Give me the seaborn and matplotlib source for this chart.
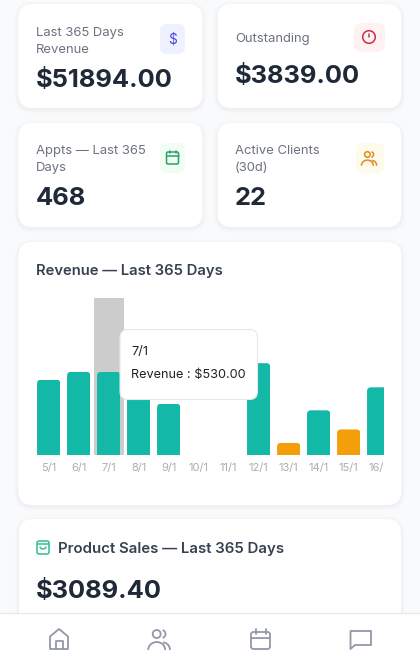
import matplotlib
matplotlib.use("Agg")
import matplotlib.pyplot as plt
import seaborn as sns
import pandas as pd
from matplotlib.patches import FancyBboxPatch, Circle, Arc, Rectangle
from matplotlib.transforms import Bbox, IdentityTransform

months = ["5/1","6/1","7/1","8/1","9/1","10/1","11/1","12/1","13/1","14/1","15/1","16/1"]
revenue = [480,530,530,400,326,0,0,585,77,284,162,431]
tier = ["a","a","a","a","a","a","a","a","b","a","b","a"]
hover = [0,0,1000,0,0,0,0,0,0,0,0,0]

TEAL="#14B8A6"; AMBER="#F59E0B"; BG="#F8FAFC"; INK="#1F2937"; MUTED="#6B7280"; SUB="#374151"; NAV="#9298A8"
W,H=420,653
sns.set_theme(style="white")
plt.rcParams['font.family']=['Inter','DejaVu Sans']
fig=plt.figure(figsize=(W/100,H/100),dpi=100,facecolor=BG)

def layer(z):
    a=fig.add_axes([0,0,1,1],zorder=z); a.set_xlim(0,W); a.set_ylim(H,0); a.axis('off'); a.patch.set_alpha(0); return a
back=layer(0); front=layer(5)

def rbox(a,x0,y0,x1,y1,r,fc,ec='none',lw=0,z=1,alpha=None):
    p=FancyBboxPatch((x0+r,y0+r),x1-x0-2*r,y1-y0-2*r,boxstyle=f"round,pad={r},rounding_size={r}",fc=fc,ec=ec,lw=lw,zorder=z,alpha=alpha)
    a.add_patch(p); return p

def card(x0,y0,x1,y1,r=14):
    for g,al in ((4,0.006),(3,0.008),(2,0.010),(1,0.012)):
        rbox(back,x0-g,y0-g+1.5,x1+g,y1+g+1.5,r+g,"#334155",z=1,alpha=al)
    rbox(back,x0,y0,x1,y1,r,"white",z=2)

for c in [(18.3,4,202.5,108),(217.5,4,401.3,108),(18.3,123,202.5,227),(217.5,123,401.3,227),(18.3,242,401.5,505),(19,519,401,640)]:
    card(*c)

def T(a,x,y,s,size,color,weight='normal',ha='left'):
    return a.text(x,y+1.5+0.1*size,s,fontsize=size,color=color,fontweight=weight,ha=ha,va='center',zorder=6)

VAL=18.35; LAB=9.4
T(back,36,30.5,"Last 365 Days",LAB,MUTED); T(back,36,47.5,"Revenue",LAB,MUTED)
T(back,36,77.5,"$51894.00",VAL,INK,'bold')
T(back,235,36.5,"Outstanding",LAB,MUTED)
T(back,235,73,"$3839.00",VAL,INK,'bold')
T(back,36,148.5,"Appts — Last 365",LAB,MUTED); T(back,36,166,"Days",LAB,MUTED)
T(back,36,195,"468",VAL,INK,'bold')
T(back,235,148.5,"Active Clients",LAB,MUTED); T(back,235,166,"(30d)",LAB,MUTED)
T(back,235,195,"22",VAL,INK,'bold')
T(back,36,268.8,"Revenue — Last 365 Days",10.65,SUB,'semibold')
T(back,57.5,546.8,"Product Sales — Last 365 Days",10.8,SUB,'semibold')
T(back,36,588,"$3089.40",VAL,INK,'bold')

# icon tiles
rbox(back,160,24,185,54,7,"#EEF2FF",z=3)
T(back,172.5,37,"$",9.8,"#4F46E5",ha='center')
rbox(back,354,23,385,52,8,"#FEF2F2",z=3)
rbox(back,160,143,185,173,7,"#F0FDF4",z=3)
rbox(back,356,143,384,173,7,"#FFFBEB",z=3)

def circ(a,x,y,r,col,lw=1.1,z=7):
    a.add_patch(Circle((x,y),r,fc='none',ec=col,lw=lw,zorder=z))
def line(a,xs,ys,col,lw=1.1,z=7):
    a.plot(xs,ys,color=col,lw=lw,zorder=z,solid_capstyle='round',solid_joinstyle='round')
def arc(a,x,y,w,h,t1,t2,col,lw=1.1,z=7):
    a.add_patch(Arc((x,y),w,h,theta1=t1,theta2=t2,ec=col,lw=lw,zorder=z))

RED="#C9304A"
circ(back,369,37,6.3,RED)
line(back,[369,369],[33.8,37.2],RED); line(back,[369,369],[40,40.1],RED)

GR="#2E9E62"
rbox(back,166.5,152,178.5,164,1.5,'none',ec=GR,lw=1.1,z=7)
line(back,[166.5,178.5],[155.5,155.5],GR)
line(back,[169.5,169.5],[150.5,153],GR); line(back,[175.5,175.5],[150.5,153],GR)
for yy in (158.5,161):
    for xx in (169.5,172.5,175.5):
        line(back,[xx,xx+0.3],[yy,yy],GR,lw=0.8)

def users(a,cx,cy,col,s=1.0,lw=1.1):
    circ(a,cx-2.3*s,cy-5*s,4*s,col,lw)
    arc(a,cx-2.3*s,cy+11*s,17*s,16*s,180,360,col,lw)
    arc(a,cx+2.5*s,cy-5*s,8*s,8*s,-75,75,col,lw)
    arc(a,cx+4*s,cy+11*s,14*s,15*s,270,360,col,lw)
users(back,369,158,"#D98A25",s=0.7)

# bag
G2="#34BC94"
rbox(back,37,541,49,554,2,'none',ec=G2,lw=1.1,z=7)
line(back,[37.5,48.5],[544,544],G2)
arc(back,43,546.5,6,5,0,180,G2)

# chart axes
L,R,B,Tp=33.7,384.0,454.8,298.2
ax=fig.add_axes([L/W,1-B/H,(R-L)/W,(B-Tp)/H],zorder=3)
ax.patch.set_alpha(0)
df=pd.DataFrame({"month":months,"revenue":revenue,"tier":tier,"hover":hover})
sns.barplot(data=df,x="month",y="hover",color="#CCCCCC",width=1.0,saturation=1,linewidth=0,ax=ax,zorder=1)
n_hover=len(ax.patches)
sns.barplot(data=df,x="month",y="revenue",hue="tier",palette={"a":TEAL,"b":AMBER},dodge=False,width=0.777,
            saturation=1,linewidth=0,legend=False,ax=ax,zorder=2)
ax.set_xlim(-0.5,(R-L)/30-0.5); ax.set_ylim(0,1000)
ax.set_xlabel(""); ax.set_ylabel(""); ax.set_yticks([])
sns.despine(ax=ax,left=True,bottom=True)
ax.tick_params(axis='x',length=0,pad=6,labelsize=8.0,labelcolor="#A8ACB4")
fig.canvas.draw()
for bar in ax.patches[n_hover:]:
    if bar.get_height()<=0: continue
    e=bar.get_window_extent()
    clip=FancyBboxPatch((e.x0+4,e.y0-8),e.width-8,e.height+4,boxstyle="round,pad=4,rounding_size=4")
    bar.set_clip_path(clip.get_path(),IdentityTransform())
box=Bbox.from_extents(L/W*fig.bbox.width,0,R/W*fig.bbox.width,fig.bbox.height)
for lab in ax.get_xticklabels():
    lab.set_clip_box(box); lab.set_clip_on(True)

# tooltip
rbox(front,120,329.5,257.5,399.5,8,"white",ec="#E5E7EB",lw=0.8,z=5)
T(front,131,350,"7/1",9.2,"#222222")
T(front,131,372.9,"Revenue : $530.00",9.15,"#222222")

# nav
front.add_patch(Rectangle((0,613),W,40,fc="white",ec='none',zorder=5))
line(front,[0,W],[612.6,612.6],"#E5E7EB",lw=0.8,z=6)
line(front,[50,59,68],[636.5,629,636.5],NAV,lw=1.3)
line(front,[50,50,68,68],[636.5,648.5,648.5,636.5],NAV,lw=1.3)
line(front,[55.5,55.5,62.5,62.5],[648.5,640.5,640.5,648.5],NAV,lw=1.3)
users(front,159,639,NAV,s=1.0,lw=1.3)
rbox(front,251,632,270,649,2.5,'none',ec=NAV,lw=1.3,z=7)
line(front,[251,270],[637.5,637.5],NAV,lw=1.3)
line(front,[255.5,255.5],[629,634],NAV,lw=1.3); line(front,[265.5,265.5],[629,634],NAV,lw=1.3)
line(front,[350.5,350.5,355,371,371,350.5],[632,649,645,645,631,631],NAV,lw=1.3)

fig.savefig("out.png",dpi=100,facecolor=BG)
